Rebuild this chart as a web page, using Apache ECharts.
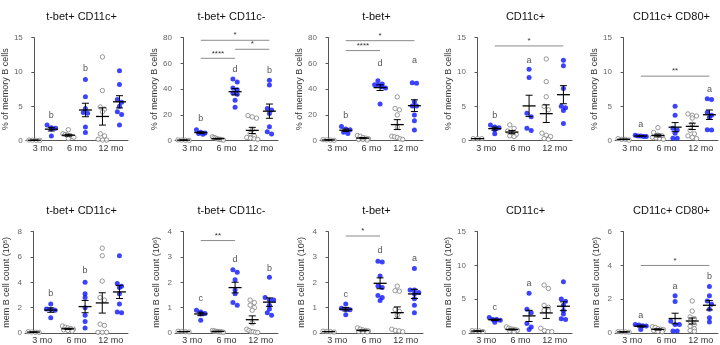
<!DOCTYPE html>
<html>
<head>
<meta charset="utf-8">
<script src="https://cdn.jsdelivr.net/npm/echarts@6/dist/echarts.min.js"></script>
<style>
  html, body { margin: 0; padding: 0; background: #fff; }
  #main { width: 720px; height: 345px; }
</style>
</head>
<body>
<div id="main"></div>
<script>
const months = ['3 mo', '6 mo', '12 mo'];
// each panel: grey 3mo, blue 3mo, grey 6mo, blue 6mo, grey 12mo, blue 12mo
const pctTbetCd11cPos = [
  [0.05, 0.08, 0.1, 0.06],
  [2.3, 1.9, 1.8, 1.7, 0.7],
  [1.6, 1.0, 0.9, 0.8, 0.7, 0.6, 0.5, 0.3],
  [8.9, 6.4, 4.7, 4.1, 4.0, 2.0, 1.2],
  [12.2, 7.3, 4.9, 4.6, 4.2, 1.0, 0.7, 0.2, 0.1, 0.1],
  [10.2, 8.2, 6.0, 5.6, 5.0, 4.2, 3.8, 2.3]
];
const pctTbetCd11cNeg = [
  [0.5, 0.3, 0.4, 0.6],
  [8.5, 6.5, 6.0, 5.5, 5.0],
  [3.0, 2.5, 2.0, 1.5, 1.2, 1.0, 0.8, 0.5],
  [48, 45.5, 41, 39.5, 37, 36, 31.5, 26],
  [19.5, 18.5, 17.5, 8.5, 5.5, 3.5, 2.5, 2, 1.5, 1],
  [47, 43.3, 25.1, 23.8, 21.2, 10.9, 7, 5.2]
];
const pctTbet = [
  [0.5, 0.8, 0.3, 0.6],
  [11, 9, 8.5, 6.5, 5.5],
  [4, 3.5, 2.5, 2, 1.5, 1, 1, 0.5],
  [46.5, 44, 43.5, 43, 42, 41, 28.5],
  [34, 25, 24, 20, 10.5, 3.5, 3, 2.5, 1.5, 1],
  [45, 44.6, 30.3, 27, 27, 20, 15.5, 8.3]
];
const pctCd11cPos = [
  [0.3, 0.3, 0.3],
  [2.3, 2.0, 1.9, 1.6, 1.0],
  [2.3, 1.8, 1.4, 1.1, 0.9, 0.7, 0.6],
  [10.4, 9.2, 4.0, 3.5, 1.8, 1.5],
  [11.9, 8.6, 6.4, 5.0, 4.5, 1.1, 0.8, 0.6, 0.3, 0.2],
  [11.7, 10.9, 7.6, 5.0, 4.8, 4.4, 2.5]
];
const pctCd11cCd80 = [
  [0.2, 0.3, 0.2, 0.1],
  [0.8, 0.7, 0.7, 0.6, 0.6],
  [1.9, 1.2, 0.8, 0.7, 0.5, 0.4, 0.3, 0.2],
  [5.0, 3.7, 1.8, 1.55, 1.07, 0.34, 0.34],
  [3.9, 3.7, 3.6, 3.3, 2.4, 1.5, 1.0, 0.7, 0.5, 0.3],
  [6.1, 6.0, 4.1, 3.7, 3.4, 1.6, 1.55]
];
const cntTbetCd11cPos = [
  [0.05, 0.08, 0.06, 0.1],
  [2.3, 1.9, 1.85, 1.8, 1.2],
  [0.55, 0.45, 0.4, 0.35, 0.3, 0.25, 0.2, 0.15],
  [4.0, 3.1, 2.8, 2.0, 1.4, 0.9, 0.4],
  [6.7, 6.1, 4.1, 2.8, 2.6, 0.7, 0.6, 0.05, 0.05, 0.05],
  [6.1, 3.9, 3.7, 3.6, 3.1, 2.3, 1.65, 1.6]
];
const cntTbetCd11cNeg = [
  [0.05, 0.06, 0.04, 0.07],
  [0.9, 0.83, 0.77, 0.76, 0.5],
  [0.1, 0.08, 0.07, 0.06, 0.05, 0.05, 0.04, 0.03],
  [2.5, 2.4, 2.1, 1.7, 1.55, 1.2, 1.1],
  [1.3, 1.2, 1.1, 1.0, 0.9, 0.4, 0.15, 0.1, 0.05, 0.05, 0.03, 0.02],
  [2.2, 1.4, 1.3, 1.3, 1.1, 0.95, 0.8, 0.7]
];
const cntTbet = [
  [0.05, 0.07, 0.04, 0.06],
  [1.15, 0.98, 0.93, 0.92, 0.72],
  [0.2, 0.15, 0.12, 0.1, 0.08, 0.06, 0.05, 0.04],
  [2.83, 2.8, 2.25, 1.86, 1.8, 1.48, 1.4, 1.28],
  [1.85, 1.67, 1.65, 0.93, 0.85, 0.7, 0.15, 0.1, 0.08, 0.05],
  [2.55, 1.7, 1.7, 1.6, 1.55, 1.35, 1.1, 0.8]
];
const cntCd11cPos = [
  [0.3, 0.35, 0.3, 0.2],
  [2.3, 2.0, 2.0, 1.9, 1.6],
  [0.9, 0.7, 0.6, 0.55, 0.5, 0.4, 0.3, 0.2],
  [5.9, 3.5, 3.0, 1.4, 0.9, 0.5],
  [7.1, 6.6, 4.1, 3.8, 3.35, 3.3, 0.7, 0.35, 0.2, 0.2],
  [7.6, 5.05, 4.7, 4.1, 3.35, 2.8, 2.1, 2.0]
];
const cntCd11cCd80 = [
  [0.05, 0.07, 0.06, 0.08],
  [0.5, 0.47, 0.43, 0.42, 0.2],
  [0.37, 0.33, 0.25, 0.22, 0.2, 0.15, 0.1, 0.08],
  [2.2, 1.86, 0.7, 0.5, 0.5, 0.12, 0.12],
  [1.9, 1.3, 0.95, 0.85, 0.7, 0.5, 0.4, 0.25, 0.15, 0.1],
  [2.75, 2.2, 1.9, 1.7, 1.4, 0.9, 0.65]
];

// letters: [group, y, text]; brackets: [fromGroup, toGroup, y, stars]
const lettersP1 = [[1, 3.7, 'b'], [3, 10.5, 'b']];
const lettersP2 = [[1, 17.4, 'b'], [3, 55.4, 'd'], [5, 54.9, 'b']];
const lettersP3 = [[1, 19.2, 'b'], [3, 60, 'd'], [5, 62, 'a']];
const lettersP4 = [[1, 3.6, 'b'], [3, 11.7, 'a']];
const lettersP5 = [[1, 2.3, 'a'], [5, 7.5, 'a']];
const lettersP6 = [[1, 3.1, 'b'], [3, 4.9, 'b']];
const lettersP7 = [[1, 1.35, 'c'], [3, 2.9, 'd'], [5, 2.55, 'b']];
const lettersP8 = [[1, 1.5, 'c'], [3, 3.26, 'd'], [5, 2.96, 'a']];
const lettersP9 = [[1, 3.7, 'c'], [3, 7.3, 'a']];
const lettersP10 = [[1, 1.05, 'a'], [3, 2.74, 'a'], [5, 3.35, 'b']];
const bracketsP2 = [[1, 3, 64, '****'], [3, 5, 71, '*'], [1, 5, 78, '*']];
const bracketsP3 = [[1, 3, 70, '****'], [1, 5, 77.7, '*']];
const bracketsP4 = [[1, 5, 13.8, '*']];
const bracketsP5 = [[1, 5, 9.4, '**']];
const bracketsP7 = [[1, 3, 3.65, '**']];
const bracketsP8 = [[1, 3, 3.83, '*']];
const bracketsP10 = [[1, 5, 4.0, '*']];

const pctName = '% of memory B cells';
const cntName5 = 'mem B cell count (10{sup|5})';
const cntName6 = 'mem B cell count (10{sup|6})';

const panels = [
  { title: 't-bet+ CD11c+', name: pctName, max: 15, step: 5, values: pctTbetCd11cPos, letters: lettersP1, brackets: [] },
  { title: 't-bet+ CD11c-', name: pctName, max: 80, step: 20, values: pctTbetCd11cNeg, letters: lettersP2, brackets: bracketsP2 },
  { title: 't-bet+', name: pctName, max: 80, step: 20, values: pctTbet, letters: lettersP3, brackets: bracketsP3 },
  { title: 'CD11c+', name: pctName, max: 15, step: 5, values: pctCd11cPos, letters: lettersP4, brackets: bracketsP4 },
  { title: 'CD11c+ CD80+', name: pctName, max: 15, step: 5, values: pctCd11cCd80, letters: lettersP5, brackets: bracketsP5 },
  { title: 't-bet+ CD11c+', name: cntName5, max: 8, step: 2, values: cntTbetCd11cPos, letters: lettersP6, brackets: [] },
  { title: 't-bet+ CD11c-', name: cntName6, max: 4, step: 1, values: cntTbetCd11cNeg, letters: lettersP7, brackets: bracketsP7 },
  { title: 't-bet+', name: cntName6, max: 4, step: 1, values: cntTbet, letters: lettersP8, brackets: bracketsP8 },
  { title: 'CD11c+', name: cntName5, max: 15, step: 5, values: cntCd11cPos, letters: lettersP9, brackets: [] },
  { title: 'CD11c+ CD80+', name: cntName5, max: 6, step: 2, values: cntCd11cCd80, letters: lettersP10, brackets: bracketsP10 }
];

const lefts = [25, 175, 320, 469, 615];
const tops = [37.7, 231.7];
const W = 103, H = 103;
const FONT = 'Liberation Sans, Arial, sans-serif';
const BLUE = '#0a14ff';

// prism-like dot layout: points at about the same height go side by side in a row
function swarm(vals, g, pxPerUnit) {
  const band = W / 6, gap = 4.3, rowH = 3.6, half = 5.5;
  const sorted = vals.slice().sort((a, b) => b - a);
  const rows = [];
  sorted.forEach(function (v) {
    const last = rows[rows.length - 1];
    if (last && (last[0] - v) * pxPerUnit < rowH) last.push(v);
    else rows.push([v]);
  });
  const out = [];
  rows.forEach(function (r) {
    const sp = r.length > 1 ? Math.min(gap, 2 * half / (r.length - 1)) : 0;
    r.forEach(function (v, j) {
      out.push([g + (j - (r.length - 1) / 2) * sp / band, v]);
    });
  });
  return out;
}

function stats(vals) {
  const n = vals.length;
  const m = vals.reduce((a, b) => a + b, 0) / n;
  const sd = Math.sqrt(vals.reduce((a, b) => a + (b - m) * (b - m), 0) / (n - 1));
  return [m, sd / Math.sqrt(n)];
}

const option = {
  animation: false,
  textStyle: { fontFamily: FONT },
  title: [], grid: [], xAxis: [], yAxis: [], series: []
};

panels.forEach(function (p, i) {
  const left = lefts[i % 5], top = tops[Math.floor(i / 5)];
  const pxPerUnit = H / p.max;
  option.title.push({
    text: p.title, left: left + W / 2, top: top - 31, textAlign: 'center',
    textStyle: { fontSize: 11, fontWeight: 'normal', color: '#111', fontFamily: FONT }
  });
  option.grid.push({ left: left, top: top, width: W, height: H });
  option.xAxis.push({
    type: 'value', gridIndex: i, min: -0.5, max: 5.5,
    axisLine: { show: true, lineStyle: { color: '#555', width: 1 } },
    axisTick: { show: false }, axisLabel: { show: false }, splitLine: { show: false }
  });
  option.xAxis.push({
    type: 'category', gridIndex: i, data: months, position: 'bottom',
    axisLine: { show: false }, axisTick: { show: false }, splitLine: { show: false },
    axisLabel: { fontSize: 9, color: '#333', margin: 3, fontFamily: FONT }
  });
  option.yAxis.push({
    type: 'value', gridIndex: i, min: 0, max: p.max, interval: p.step,
    name: p.name, nameLocation: 'middle', nameGap: 14,
    nameTextStyle: {
      fontSize: 9, color: '#333', fontFamily: FONT,
      rich: { sup: { fontSize: 6, verticalAlign: 'top', color: '#333', fontFamily: FONT } }
    },
    axisLine: { show: true, lineStyle: { color: '#555', width: 1 } },
    axisTick: { show: true, length: 3, lineStyle: { color: '#555' } },
    axisLabel: { fontSize: 8, color: '#666', margin: 3, fontFamily: FONT },
    splitLine: { show: false }
  });
  const xi = i * 2;
  const grey = [], blue = [], ms = [];
  p.values.forEach(function (vals, g) {
    const pts = swarm(vals, g, pxPerUnit);
    (g % 2 ? blue : grey).push.apply(g % 2 ? blue : grey, pts);
    const s = stats(vals);
    ms.push([g, s[0], s[1]]);
  });
  option.series.push({
    type: 'scatter', xAxisIndex: xi, yAxisIndex: i, data: grey,
    symbol: 'circle', symbolSize: 4.4, z: 3,
    itemStyle: { color: '#fff', borderColor: '#808080', borderWidth: 1 }
  });
  option.series.push({
    type: 'scatter', xAxisIndex: xi, yAxisIndex: i, data: blue,
    symbol: 'circle', symbolSize: 5, z: 3,
    itemStyle: { color: BLUE, borderWidth: 0 }
  });
  option.series.push({
    type: 'custom', xAxisIndex: xi, yAxisIndex: i, data: ms, z: 5,
    renderItem: function (params, api) {
      const g = api.value(0), m = api.value(1), s = api.value(2);
      const c = api.coord([g, m]);
      const hi = api.coord([g, m + s])[1];
      const lo = api.coord([g, Math.max(0, m - s)])[1];
      const st = { stroke: '#000', lineWidth: 1 };
      return {
        type: 'group', children: [
          { type: 'line', shape: { x1: c[0] - 6.5, y1: c[1], x2: c[0] + 6.5, y2: c[1] }, style: { stroke: '#000', lineWidth: 1.3 } },
          { type: 'line', shape: { x1: c[0], y1: hi, x2: c[0], y2: lo }, style: st },
          { type: 'line', shape: { x1: c[0] - 3.5, y1: hi, x2: c[0] + 3.5, y2: hi }, style: st },
          { type: 'line', shape: { x1: c[0] - 3.5, y1: lo, x2: c[0] + 3.5, y2: lo }, style: st }
        ]
      };
    }
  });
  option.series.push({
    type: 'custom', xAxisIndex: xi, yAxisIndex: i, z: 4,
    data: p.letters.map(l => [l[0], l[1]]),
    renderItem: function (params, api) {
      const c = api.coord([api.value(0), api.value(1)]);
      return {
        type: 'text', x: c[0], y: c[1],
        style: { text: p.letters[params.dataIndex][2], fontSize: 9, fill: '#555', fontFamily: FONT, align: 'center', verticalAlign: 'middle' }
      };
    }
  });
  if (p.brackets.length) {
    option.series.push({
      type: 'custom', xAxisIndex: xi, yAxisIndex: i, z: 4,
      data: p.brackets.map(b => [b[0], b[2], b[1]]),
      renderItem: function (params, api) {
        const a = api.coord([api.value(0), api.value(1)]);
        const b = api.coord([api.value(2), api.value(1)]);
        return {
          type: 'group', children: [
            { type: 'line', shape: { x1: a[0], y1: a[1], x2: b[0], y2: b[1] }, style: { stroke: '#8a8a8a', lineWidth: 1 } },
            { type: 'text', x: (a[0] + b[0]) / 2, y: a[1] - 1, style: { text: p.brackets[params.dataIndex][3], fontSize: 8, fill: '#333', fontFamily: FONT, align: 'center', verticalAlign: 'bottom' } }
          ]
        };
      }
    });
  }
});

const chart = echarts.init(document.getElementById('main'));
chart.setOption(option);
</script>
</body>
</html>
